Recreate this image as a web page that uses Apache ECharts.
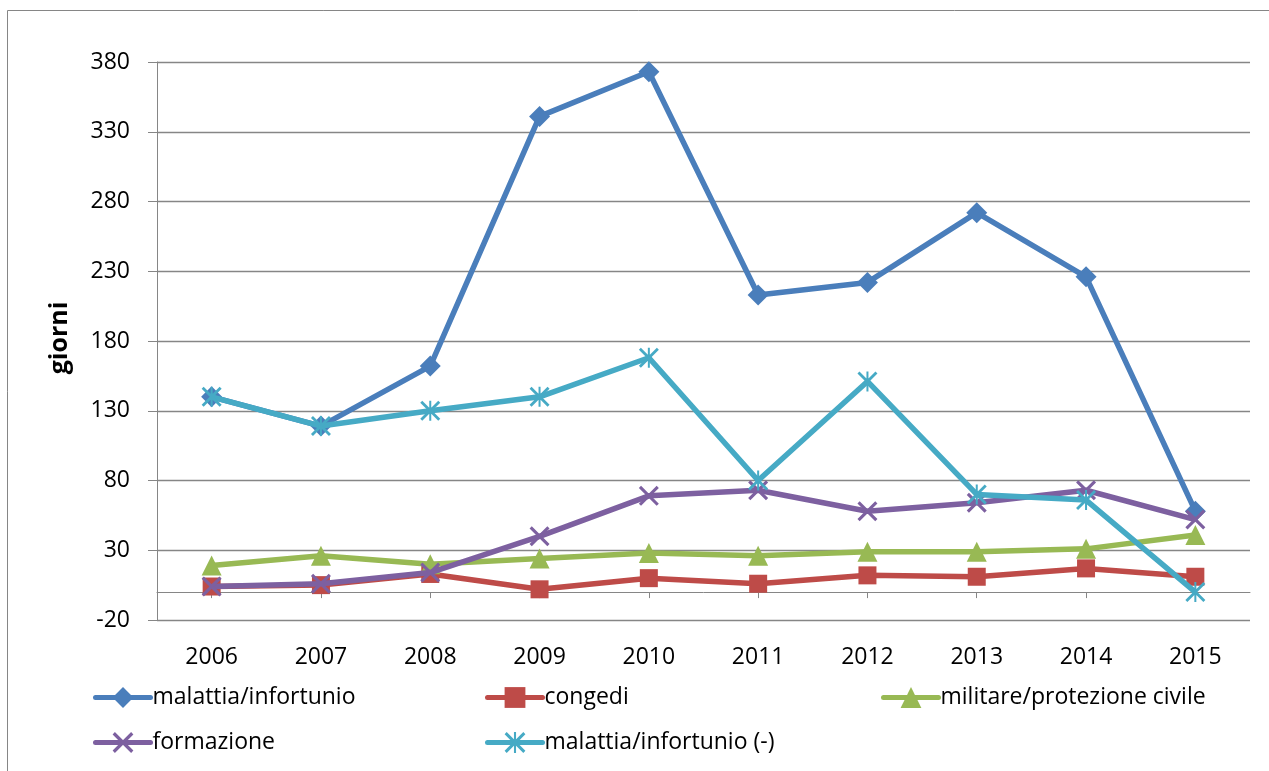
<!DOCTYPE html>
<html>
<head>
<meta charset="utf-8">
<script src="https://cdn.jsdelivr.net/npm/echarts@6/dist/echarts.min.js"></script>
<style>
html,body{margin:0;padding:0;background:#fff;}
#chart{width:1269px;height:771px;}
</style>
</head>
<body>
<div id="chart"></div>
<script>
const years = ['2006','2007','2008','2009','2010','2011','2012','2013','2014','2015'];
const malattiaInfortunio = [140, 119, 162, 341, 373, 213, 222, 272, 226, 58];
const congedi = [4, 5, 13, 2, 10, 6, 12, 11, 17, 11];
const militareProtezioneCivile = [19, 26, 20, 24, 28, 26, 29, 29, 31, 41];
const formazione = [4, 6, 14, 40, 69, 73, 58, 64, 73, 52];
const malattiaInfortunioMeno = [140, 119, 130, 140, 168, 80, 151, 70, 66, 0];
const seriesNames = ['malattia/infortunio', 'congedi', 'militare/protezione civile', 'formazione', 'malattia/infortunio (-)'];
const yMin = -20, yMax = 380, yStep = 50;
const yTitle = 'giorni';

const FONT = '"Open Sans", "Noto Sans", sans-serif';
const GRAY = '#868686';
const colors = ['#4A7EBB', '#BE4B48', '#98B954', '#7D60A0', '#46AAC5'];
const xPath = 'path://M0 11L11 0L100 89L89 100Z M89 0L100 11L11 100L0 89Z';
const starPath = 'path://M0 10L10 0L100 90L90 100Z M90 0L100 10L10 100L0 90Z M45 0L55 0L55 100L45 100Z';

const symbols = ['diamond', 'rect', 'triangle', xPath, starPath];
const sizes = [21, 18, 20, 20, 20];
const values = [malattiaInfortunio, congedi, militareProtezioneCivile, formazione, malattiaInfortunioMeno];

const chart = echarts.init(document.getElementById('chart'), null, {renderer: 'canvas'});

const legendPos = [
  {left: 88, top: 681}, {left: 480, top: 681}, {left: 876, top: 681},
  {left: 88, top: 726}, {left: 480, top: 726}
];

const option = {
  animation: false,
  color: colors,
  graphic: [
    {type: 'rect', shape: {x: 7.5, y: 10.5, width: 1400, height: 900}, style: {fill: 'none', stroke: GRAY, lineWidth: 1}, silent: true},
    {type: 'text', x: 60, y: 338, rotation: Math.PI / 2, style: {text: yTitle, font: 'bold 25px ' + FONT, fill: '#000', textAlign: 'center', textVerticalAlign: 'middle'}}
  ],
  legend: seriesNames.map((n, i) => ({
    data: [n], left: legendPos[i].left, top: legendPos[i].top,
    itemWidth: 55, itemHeight: 26, itemGap: 0,
    lineStyle: {width: 5, cap: 'round'},
    textStyle: {fontFamily: FONT, fontSize: 23, color: '#000', padding: [0, 0, 0, -3]}
  })),
  grid: {left: 157, right: 19, top: 62, bottom: 151, containLabel: false},
  xAxis: {
    type: 'category', data: years, boundaryGap: true,
    axisLine: {show: true, onZero: true, lineStyle: {color: GRAY, width: 1}},
    axisTick: {show: true, alignWithLabel: true, length: 6, lineStyle: {color: GRAY}},
    axisLabel: {margin: 26, fontFamily: FONT, fontSize: 23, color: '#000'},
    splitLine: {show: false}
  },
  yAxis: {
    type: 'value', min: yMin, max: yMax, interval: yStep,
    axisLine: {show: true, lineStyle: {color: GRAY, width: 1}},
    axisTick: {show: true, length: 9, lineStyle: {color: GRAY}},
    axisLabel: {margin: 27, fontFamily: FONT, fontSize: 23, color: '#000'},
    splitLine: {show: true, lineStyle: {color: GRAY, width: 1.3}}
  },
  series: seriesNames.map((n, i) => ({
    name: n, type: 'line', data: values[i],
    symbol: symbols[i], symbolSize: sizes[i], showSymbol: true,
    lineStyle: {width: 5.5, color: colors[i]},
    itemStyle: {color: colors[i]},
    z: 2 + i
  }))
};
chart.setOption(option);
</script>
</body>
</html>
